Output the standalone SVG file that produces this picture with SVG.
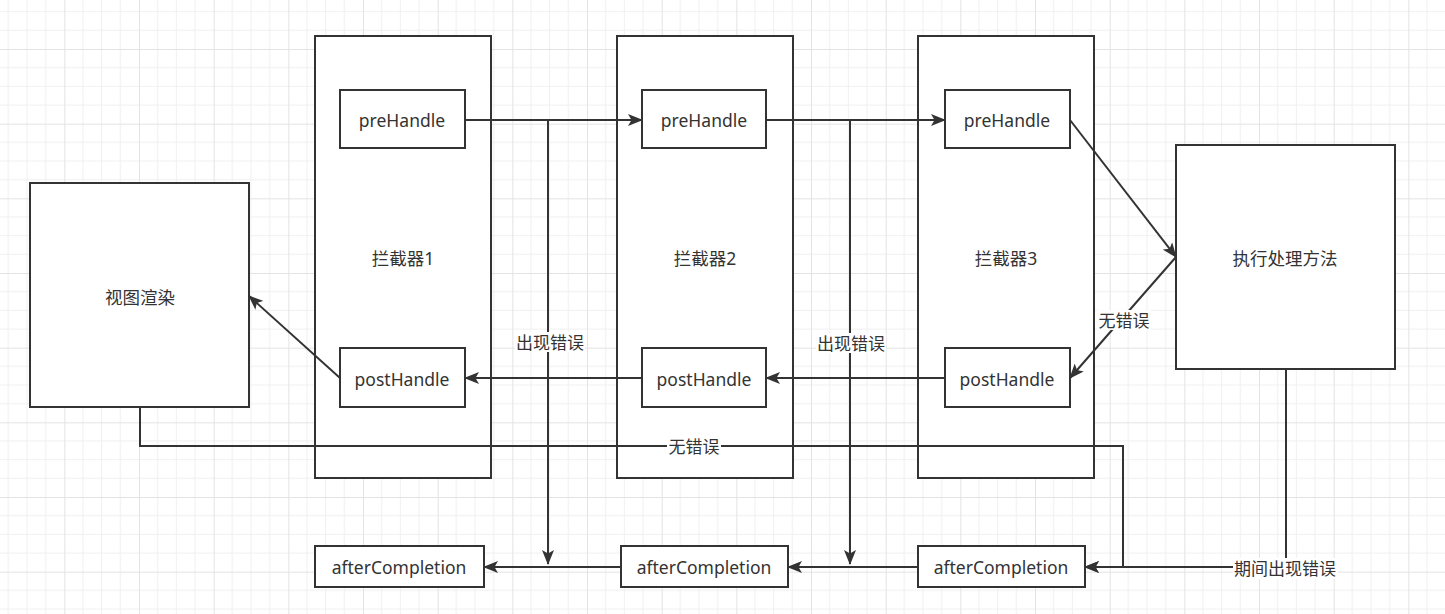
<svg xmlns="http://www.w3.org/2000/svg" width="1445" height="614" viewBox="0 0 1445 614">
<style>
.box{fill:#ffffff;stroke:#333333;stroke-width:2}
.t{font-family:"Noto Sans","Noto Sans CJK SC",sans-serif;font-size:17.5px;fill:#333333;text-anchor:middle;dominant-baseline:central}
.c{fill:none;stroke:#333333;stroke-width:2}
.lbl{fill:#ffffff}
.s{font-size:17px}
</style>
<defs>
<pattern id="grid" patternUnits="userSpaceOnUse" x="64.33" y="49" width="74.667" height="74.667">
<path d="M18.667 0V74.667M37.333 0V74.667M56 0V74.667M0 18.667H74.667M0 37.333H74.667M0 56H74.667" stroke="#f0f0f0" stroke-width="1" fill="none"/>
<path d="M0.5 0V74.667M0 0.5H74.667" stroke="#e3e3e3" stroke-width="1" fill="none"/>
</pattern>
<marker id="arr" markerWidth="15" markerHeight="12" refX="14" refY="6" orient="auto" markerUnits="userSpaceOnUse">
<path d="M0 0L15 6L0 12L3.5 6Z" fill="#333333"/>
</marker>
</defs>
<rect width="1445" height="614" fill="#ffffff"/>
<rect width="1445" height="614" fill="url(#grid)"/>

<g id="interceptor1"><rect class="box" x="315" y="36" width="176" height="442"/><text class="t" x="403" y="258">拦截器1</text></g>
<g id="interceptor2"><rect class="box" x="617" y="36" width="176" height="442"/><text class="t" x="705" y="258">拦截器2</text></g>
<g id="interceptor3"><rect class="box" x="918" y="36" width="176" height="442"/><text class="t" x="1006" y="258">拦截器3</text></g>

<g id="view"><rect class="box" x="30" y="183" width="219" height="224"/><text class="t" x="140" y="297">视图渲染</text></g>
<g id="handler"><rect class="box" x="1176" y="145" width="219" height="224"/><text class="t" x="1285" y="258">执行处理方法</text></g>

<g id="pre1"><rect class="box" x="340" y="90" width="125" height="58"/><text class="t" x="402" y="120">preHandle</text></g>
<g id="pre2"><rect class="box" x="642" y="90" width="124" height="58"/><text class="t" x="704" y="120">preHandle</text></g>
<g id="pre3"><rect class="box" x="945" y="90" width="125" height="58"/><text class="t" x="1007" y="120">preHandle</text></g>

<g id="post1"><rect class="box" x="340" y="348" width="125" height="59"/><text class="t" x="402" y="379">postHandle</text></g>
<g id="post2"><rect class="box" x="642" y="348" width="124" height="59"/><text class="t" x="704" y="379">postHandle</text></g>
<g id="post3"><rect class="box" x="945" y="348" width="125" height="59"/><text class="t" x="1007" y="379">postHandle</text></g>

<g id="after1"><rect class="box" x="315" y="546" width="169" height="41"/><text class="t" x="399" y="567">afterCompletion</text></g>
<g id="after2"><rect class="box" x="621" y="546" width="167" height="41"/><text class="t" x="704" y="567">afterCompletion</text></g>
<g id="after3"><rect class="box" x="918" y="546" width="167" height="41"/><text class="t" x="1001" y="567">afterCompletion</text></g>

<g id="connectors">
<path class="c" d="M465 120H642" marker-end="url(#arr)"/>
<path class="c" d="M766 120H945" marker-end="url(#arr)"/>
<path class="c" d="M548 120V564" marker-end="url(#arr)"/>
<path class="c" d="M850 120V564" marker-end="url(#arr)"/>
<path class="c" d="M1070 120L1176 257" marker-end="url(#arr)"/>
<path class="c" d="M1176 257L1070 378" marker-end="url(#arr)"/>
<path class="c" d="M945 378H766" marker-end="url(#arr)"/>
<path class="c" d="M642 378H465" marker-end="url(#arr)"/>
<path class="c" d="M340 378L249 296" marker-end="url(#arr)"/>
<path class="c" d="M140 407V446H1123V567H1085" marker-end="url(#arr)"/>
<path class="c" d="M1286 369V567H1085" marker-end="url(#arr)"/>
<path class="c" d="M918 567H788" marker-end="url(#arr)"/>
<path class="c" d="M621 567H484" marker-end="url(#arr)"/>

<rect class="lbl" x="515" y="332" width="70" height="20"/><text class="t s" x="550" y="342">出现错误</text>
<rect class="lbl" x="816" y="333" width="70" height="20"/><text class="t s" x="851" y="343">出现错误</text>
<rect class="lbl" x="1097" y="310" width="54" height="20"/><text class="t s" x="1124" y="320">无错误</text>
<rect class="lbl" x="667" y="436" width="54" height="20"/><text class="t s" x="694" y="446">无错误</text>
<rect class="lbl" x="1233" y="558" width="105" height="21"/><text class="t s" x="1285" y="568">期间出现错误</text>
</g>
</svg>
